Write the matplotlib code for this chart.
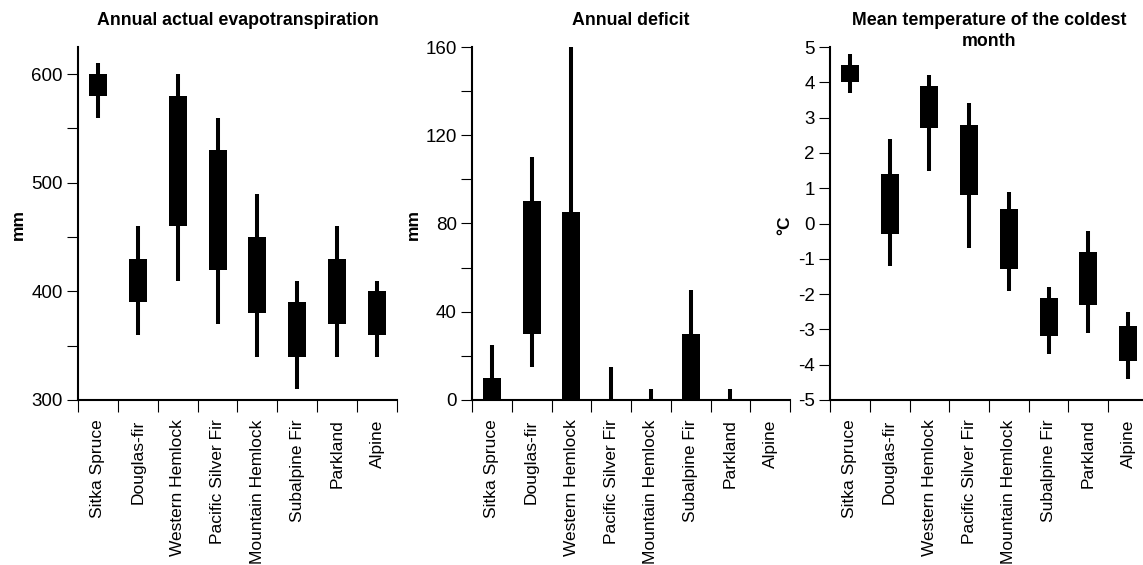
import matplotlib
matplotlib.use("Agg")
import matplotlib.pyplot as plt
from matplotlib.ticker import FixedLocator, NullFormatter, MultipleLocator

plt.rcParams["font.family"] = ["Liberation Sans", "DejaVu Sans"]
plt.rcParams["axes.unicode_minus"] = False

zones = ["Sitka Spruce", "Douglas-fir", "Western Hemlock", "Pacific Silver Fir",
         "Mountain Hemlock", "Subalpine Fir", "Parkland", "Alpine"]

# whisker low / box low / box high / whisker high for each zone
aet_lo = [560, 360, 410, 370, 340, 310, 340, 340]
aet_q1 = [580, 390, 460, 420, 380, 340, 370, 360]
aet_q3 = [600, 430, 580, 530, 450, 390, 430, 400]
aet_hi = [610, 460, 600, 560, 490, 410, 460, 410]

def_lo = [0, 15, 0, 0, 0, 0, 0, 0]
def_q1 = [0, 30, 0, 0, 0, 0, 0, 0]
def_q3 = [10, 90, 85, 0, 0, 30, 0, 0]
def_hi = [25, 110, 160, 15, 5, 50, 5, 0]

mtcm_lo = [3.7, -1.2, 1.5, -0.7, -1.9, -3.7, -3.1, -4.4]
mtcm_q1 = [4.0, -0.3, 2.7, 0.8, -1.3, -3.2, -2.3, -3.9]
mtcm_q3 = [4.5, 1.4, 3.9, 2.8, 0.4, -2.1, -0.8, -2.9]
mtcm_hi = [4.8, 2.4, 4.2, 3.4, 0.9, -1.8, -0.2, -2.5]

panels = [
    dict(title="Annual actual evapotranspiration", unit="mm",
         lo=aet_lo, q1=aet_q1, q3=aet_q3, hi=aet_hi,
         ylim=(300, 625), major=100, minor=50, left=78, right=397, ylab_x=18),
    dict(title="Annual deficit", unit="mm",
         lo=def_lo, q1=def_q1, q3=def_q3, hi=def_hi,
         ylim=(0, 160), major=40, minor=20, left=472, right=790, ylab_x=413),
    dict(title="Mean temperature of the coldest\nmonth", unit="°C",
         lo=mtcm_lo, q1=mtcm_q1, q3=mtcm_q3, hi=mtcm_hi,
         ylim=(-5, 5), major=1, minor=None, left=830, right=1148, ylab_x=785),
]

W, H = 1143, 565
fig = plt.figure(figsize=(W / 100, H / 100), dpi=100)
top_px, bot_px = 47, 400

xs = [i + 0.5 for i in range(len(zones))]

for p in panels:
    ax = fig.add_axes([p["left"] / W, 1 - bot_px / H,
                       (p["right"] - p["left"]) / W, (bot_px - top_px) / H])
    ax.vlines(xs, p["lo"], p["hi"], color="black", lw=2.9, zorder=2)
    heights = [b - a for a, b in zip(p["q1"], p["q3"])]
    ax.bar(xs, heights, bottom=p["q1"], width=0.45, color="black", zorder=3)

    ax.set_xlim(0, len(zones))
    ax.set_ylim(*p["ylim"])
    for side in ("top", "right"):
        ax.spines[side].set_visible(False)
    for side in ("left", "bottom"):
        ax.spines[side].set_linewidth(1.5)

    # category boundaries carry the ticks, names sit between them
    ax.xaxis.set_major_locator(FixedLocator(range(len(zones) + 1)))
    ax.xaxis.set_major_formatter(NullFormatter())
    ax.set_xticks(xs, zones, minor=True, rotation=90, fontsize=12.5)
    ax.tick_params(axis="x", which="major", length=8.5, width=0.8, direction="out")
    ax.tick_params(axis="x", which="minor", length=0, pad=14)

    ax.yaxis.set_major_locator(MultipleLocator(p["major"]))
    if p["minor"]:
        ax.yaxis.set_minor_locator(MultipleLocator(p["minor"]))
    ax.tick_params(axis="y", which="both", length=8, width=0.8, pad=3,
                   labelsize=13.5)

    cx = (p["left"] + p["right"]) / 2 / W
    fig.text(cx, 1 - 12 / H, p["title"], ha="center", va="top",
             fontsize=12.8, fontweight="bold", linespacing=1.3)
    fig.text(p["ylab_x"] / W, 1 - 225 / H, p["unit"], rotation=90,
             ha="center", va="center", fontsize=12.5, fontweight="bold")

fig.savefig("out.png", dpi=100)
